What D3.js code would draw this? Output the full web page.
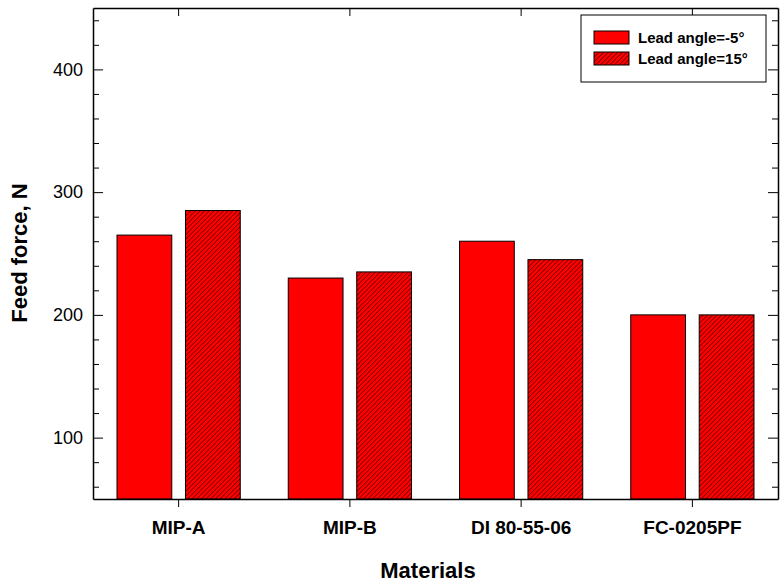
<!DOCTYPE html>
<html>
<head>
<meta charset="utf-8">
<script src="https://cdn.jsdelivr.net/npm/d3@7"></script>
<style>
  body { margin: 0; background: #fff; }
  text { font-family: "Liberation Sans", Arial, sans-serif; }
</style>
</head>
<body>
<div id="chart"></div>
<script>
const materials = ["MIP-A", "MIP-B", "DI 80-55-06", "FC-0205PF"];
const seriesNames = ["Lead angle=-5°", "Lead angle=15°"];
const leadMinus5 = [265, 230, 260, 200];
const lead15 = [285, 235, 245, 200];
const yTicks = [100, 200, 300, 400];

const width = 783, height = 585;
const margin = { left: 93, right: 5, top: 8, bottom: 86 };
const x0 = margin.left, x1 = width - margin.right;
const y0 = margin.top, y1 = height - margin.bottom;
const fontFam = "Liberation Sans, Arial, sans-serif";

const svg = d3.select("#chart").append("svg")
  .attr("width", width)
  .attr("height", height);

// hatch for second series
const hw = 3.3;
const defs = svg.append("defs");
const pat = defs.append("pattern")
  .attr("id", "hatch")
  .attr("patternUnits", "userSpaceOnUse")
  .attr("width", hw)
  .attr("height", hw)
  .attr("patternTransform", "rotate(45)");
pat.append("rect").attr("width", hw).attr("height", hw).attr("fill", "#ff0000");
pat.append("line")
  .attr("x1", 0).attr("y1", 0).attr("x2", 0).attr("y2", hw)
  .attr("stroke", "#000").attr("stroke-width", 0.9);

const x = d3.scaleBand().domain(materials).range([x0, x1]).paddingInner(0).paddingOuter(0);
const xs = d3.scaleBand().domain([0, 1]).range([24, x.bandwidth() - 24]).paddingInner(0.2);
const y = d3.scaleLinear().domain([50, 450]).range([y1, y0]);

const data = materials.map((m, i) => ({ m, vals: [leadMinus5[i], lead15[i]] }));

const grp = svg.append("g").selectAll("g")
  .data(data)
  .join("g")
  .attr("transform", d => `translate(${x(d.m)},0)`);

grp.selectAll("rect")
  .data(d => d.vals.map((v, k) => ({ v, k })))
  .join("rect")
  .attr("x", d => xs(d.k))
  .attr("width", xs.bandwidth())
  .attr("y", d => y(d.v))
  .attr("height", d => y(50) - y(d.v))
  .attr("fill", d => d.k === 0 ? "#ff0000" : "url(#hatch)")
  .attr("stroke", "#000")
  .attr("stroke-width", 1);

// axes
const minor = d3.range(60, 450, 20).filter(v => v % 100 !== 0);

svg.append("g")
  .attr("transform", `translate(${x0},0)`)
  .call(d3.axisLeft(y).tickValues(yTicks).tickSize(-10).tickPadding(10).tickSizeOuter(0))
  .call(g => g.selectAll("text").attr("font-size", 18).attr("fill", "#000").attr("font-family", fontFam))
  .call(g => g.select(".domain").attr("stroke-width", 1.5));
svg.append("g")
  .attr("transform", `translate(${x0},0)`)
  .call(d3.axisLeft(y).tickValues(minor).tickSize(-6).tickFormat("").tickSizeOuter(0))
  .call(g => g.select(".domain").remove());

svg.append("g")
  .attr("transform", `translate(${x1},0)`)
  .call(d3.axisRight(y).tickValues(yTicks).tickSize(-10).tickFormat("").tickSizeOuter(0))
  .call(g => g.select(".domain").attr("stroke-width", 1.5));
svg.append("g")
  .attr("transform", `translate(${x1},0)`)
  .call(d3.axisRight(y).tickValues(minor).tickSize(-6).tickFormat("").tickSizeOuter(0))
  .call(g => g.select(".domain").remove());

svg.append("g")
  .attr("transform", `translate(0,${y1})`)
  .call(d3.axisBottom(x).tickSize(8).tickPadding(13.5).tickSizeOuter(0))
  .call(g => g.selectAll("text").attr("font-size", 19).attr("font-weight", "bold").attr("fill", "#000").attr("font-family", fontFam))
  .call(g => g.select(".domain").attr("stroke-width", 1.5));

svg.append("g")
  .attr("transform", `translate(0,${y0})`)
  .call(d3.axisTop(x).tickSize(-8).tickFormat("").tickSizeOuter(0))
  .call(g => g.select(".domain").attr("stroke-width", 1.5));

// axis titles
svg.append("text")
  .attr("x", 428)
  .attr("y", 578)
  .attr("text-anchor", "middle")
  .attr("font-size", 22)
  .attr("font-weight", "bold")
  .text("Materials");

svg.append("text")
  .attr("transform", `translate(27,253) rotate(-90)`)
  .attr("text-anchor", "middle")
  .attr("font-size", 22)
  .attr("font-weight", "bold")
  .text("Feed force, N");

// legend
const lg = svg.append("g").attr("transform", "translate(581,15)");
lg.append("rect")
  .attr("width", 185).attr("height", 67)
  .attr("fill", "#fff").attr("stroke", "#000").attr("stroke-width", 1);
seriesNames.forEach((s, k) => {
  const row = lg.append("g").attr("transform", `translate(13,${16 + k * 21})`);
  row.append("rect")
    .attr("width", 35).attr("height", 13)
    .attr("fill", k === 0 ? "#ff0000" : "url(#hatch)")
    .attr("stroke", "#000");
  row.append("text")
    .attr("x", 44).attr("y", 12)
    .attr("font-size", 15).attr("font-weight", "bold")
    .text(s);
});
</script>
</body>
</html>
